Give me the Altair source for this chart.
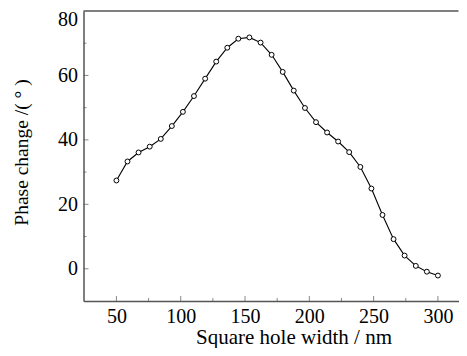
import altair as alt
import pandas as pd

width_nm = [50, 58.6, 67.2, 75.9, 84.5, 93.1, 101.7, 110.3, 119.0, 127.6,
            136.2, 144.8, 153.4, 162.1, 170.7, 179.3, 187.9, 196.6, 205.2, 213.8,
            222.4, 231.0, 239.7, 248.3, 256.9, 265.5, 274.1, 282.8, 291.4, 300]
phase = [27.4, 33.3, 36.1, 37.9, 40.3, 44.3, 48.7, 53.6, 59.0, 64.3,
         68.6, 71.4, 71.8, 70.2, 66.4, 61.1, 55.3, 49.9, 45.5, 42.3,
         39.5, 36.2, 31.6, 24.9, 16.7, 9.2, 4.1, 0.9, -0.9, -2.1]

x_major = [50, 100, 150, 200, 250, 300]
x_minor = [75, 125, 175, 225, 275]
y_major = [0, 20, 40, 60]
y_minor = [10, 30, 50, 70]
y_labels = [0, 20, 40, 60, 80]

X_DOMAIN = [24.4, 316.0]
Y_DOMAIN = [-10, 80]
FONT = "Liberation Serif"
AXIS_COLOR = "#555555"

df = pd.DataFrame({"w": width_nm, "p": phase})

xs = alt.Scale(domain=X_DOMAIN, nice=False, zero=False)
ys = alt.Scale(domain=Y_DOMAIN, nice=False, zero=False)

base = alt.Chart(df)

line = base.mark_line(color="black", strokeWidth=1.1).encode(
    x=alt.X("w:Q", scale=xs, axis=alt.Axis(
        title="Square hole width / nm", values=x_major, ticks=False,
        grid=False, labelPadding=5, domainColor=AXIS_COLOR, domainWidth=1.5,
        titleX=210, titleY=42, titleBaseline="alphabetic", titleAlign="center",
        titleFontSize=21)),
    y=alt.Y("p:Q", scale=ys, axis=alt.Axis(
        title="Phase change /( ° )", values=y_labels, ticks=False,
        grid=False, labelPadding=6, domainColor=AXIS_COLOR, domainWidth=1.5,
        labelBaseline=alt.ConditionalAxisLabelBaseline(
            condition={"test": "datum.value == 80", "value": "top"}, value="middle"),
        labelOffset=alt.ConditionalAxisNumber(
            condition={"test": "datum.value == 80", "value": -2}, value=0),
        titleX=-56, titleY=141, titleBaseline="alphabetic", titleAlign="center",
        titleFontSize=19.5)),
)

points = base.mark_point(shape="circle", filled=True, fill="white",
                         stroke="black", strokeWidth=1, size=24, opacity=1).encode(
    x=alt.X("w:Q", scale=xs), y=alt.Y("p:Q", scale=ys))

top = alt.Chart(pd.DataFrame({"a": [0]})).mark_rule(
    color=AXIS_COLOR, strokeWidth=1.5).encode(
    x=alt.datum(X_DOMAIN[0], scale=xs), x2=alt.datum(X_DOMAIN[1]),
    y=alt.datum(Y_DOMAIN[1], scale=ys))

xt_major = alt.Chart(pd.DataFrame({"t": x_major})).mark_tick(
    orient="vertical", size=5, thickness=1, color=AXIS_COLOR, yOffset=-2.5).encode(
    x=alt.X("t:Q", scale=xs), y=alt.datum(Y_DOMAIN[0], scale=ys))
xt_minor = alt.Chart(pd.DataFrame({"t": x_minor})).mark_tick(
    orient="vertical", size=3, thickness=1, color=AXIS_COLOR, yOffset=-1.5).encode(
    x=alt.X("t:Q", scale=xs), y=alt.datum(Y_DOMAIN[0], scale=ys))
yt_major = alt.Chart(pd.DataFrame({"t": y_major})).mark_tick(
    orient="horizontal", size=5, thickness=1, color=AXIS_COLOR, xOffset=2.5).encode(
    y=alt.Y("t:Q", scale=ys), x=alt.datum(X_DOMAIN[0], scale=xs))
yt_minor = alt.Chart(pd.DataFrame({"t": y_minor})).mark_tick(
    orient="horizontal", size=3, thickness=1, color=AXIS_COLOR, xOffset=1.5).encode(
    y=alt.Y("t:Q", scale=ys), x=alt.datum(X_DOMAIN[0], scale=xs))

chart = alt.layer(top, xt_major, xt_minor, yt_major, yt_minor, line, points).properties(
    width=375, height=290,
    background="white",
    autosize=alt.AutoSizeParams(type="none"),
    padding={"left": 75.5, "top": 3, "right": 0, "bottom": 47},
).configure_view(stroke=None).configure_axis(
    labelFont=FONT, titleFont=FONT, labelFontSize=20,
    labelColor="black", titleColor="black", titleFontWeight="normal",
)

chart.save("out.html", embed_options={"renderer": "svg", "actions": False})
